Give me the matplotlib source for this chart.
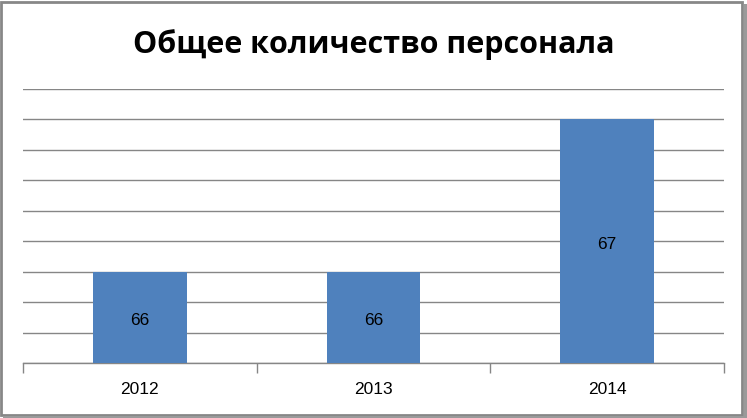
import matplotlib
matplotlib.use("Agg")
import matplotlib.pyplot as plt
from matplotlib.patches import Rectangle
from matplotlib.ticker import FixedLocator
from matplotlib.transforms import ScaledTranslation

categories = ["2012", "2013", "2014"]
values = [66, 66, 67]
title = "Общее количество персонала"
y_min, y_max, y_step = 65.4, 67.2, 0.2

fig = plt.figure(figsize=(7.47, 4.18), dpi=100)
W, H = 747, 418
ax = fig.add_axes([23 / W, 1 - 363 / H, (724 - 23) / W, (363 - 89) / H])

x = list(range(len(categories)))
bars = ax.bar(x, values, width=0.4, color="#4F81BD", zorder=3, bottom=0)
ax.set_ylim(y_min, y_max)
ax.set_xlim(-0.5, len(categories) - 0.5)

n = int(round((y_max - y_min) / y_step))
ax.yaxis.set_major_locator(FixedLocator([y_min + i * y_step for i in range(n + 1)]))
ax.grid(axis="y", color="#868686", linewidth=1.0, zorder=0)
ax.tick_params(axis="y", length=0, labelleft=False)

ax.set_xticks(x)
ax.set_xticklabels(categories, fontsize=12.5, family="Liberation Sans")
ax.tick_params(axis="x", which="major", length=0, pad=14)
ax.set_xticks([i - 0.5 for i in range(len(categories) + 1)], minor=True)
ax.tick_params(axis="x", which="minor", length=7, color="#868686", width=1)

for s in ["top", "right", "left"]:
    ax.spines[s].set_visible(False)
ax.spines["bottom"].set_color("#868686")
ax.spines["bottom"].set_linewidth(1.0)

off = ScaledTranslation(0, -3 / 100, fig.dpi_scale_trans)
for b, v in zip(bars, values):
    ax.text(b.get_x() + b.get_width() / 2, (y_min + v) / 2, str(v),
            ha="center", va="center", fontsize=12.5, family="Liberation Sans",
            color="black", zorder=4, transform=ax.transData + off)

fig.text(0.5, 1 - 45 / H, title, ha="center", va="center", fontsize=22,
         fontweight="bold", family="Open Sans")

# frame
fig.patches.append(Rectangle((1 / W, 3 / H), (742 - 1) / W, (416 - 3) / H,
                             transform=fig.transFigure, fill=False,
                             edgecolor="#878787", linewidth=2.0))
fig.patches.append(Rectangle((744 / W, 0), 3 / W, 1 - 4 / H,
                             transform=fig.transFigure, fill=True,
                             facecolor="#9a9a9a", edgecolor="none"))
fig.patches.append(Rectangle((3 / W, 0), 744 / W, 2 / H,
                             transform=fig.transFigure, fill=True,
                             facecolor="#9a9a9a", edgecolor="none"))

fig.savefig("out.png", dpi=100)
